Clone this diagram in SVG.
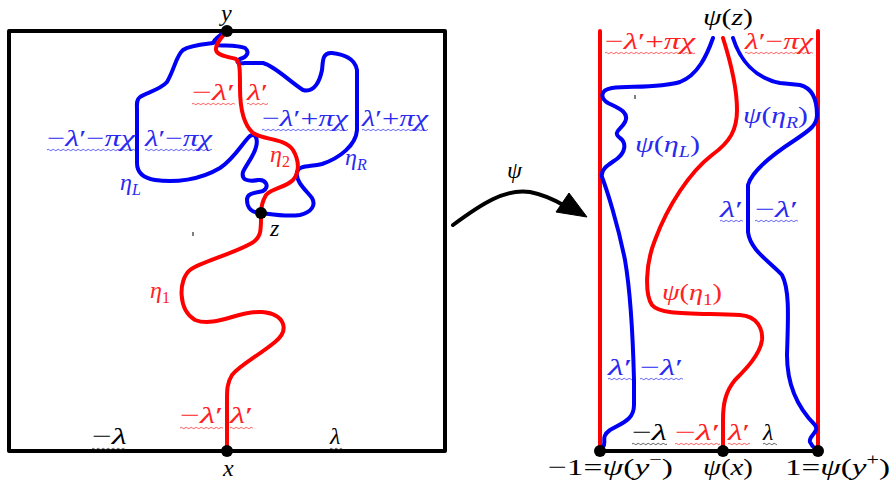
<svg xmlns="http://www.w3.org/2000/svg" width="893" height="489" viewBox="0 0 893 489">
<style>
.t{font-family:"Liberation Serif","DejaVu Serif",serif;font-size:24px;font-style:italic}
.u{font-style:normal}
.k{fill:#000}
.b{fill:#2a2af0}
.r{fill:#ff2222}
.cb{fill:none;stroke:#0000f5;stroke-width:4;stroke-linecap:round;stroke-linejoin:round}
.cr{fill:none;stroke:#ff0000;stroke-width:4;stroke-linecap:round;stroke-linejoin:round}
.ck{fill:none;stroke:#000;stroke-width:4;stroke-linecap:round;stroke-linejoin:round}
.sub{font-size:16px}
</style>
<defs>
<pattern id="wR" patternUnits="userSpaceOnUse" width="5" height="4"><path d="M0,2 Q1.25,0.6 2.5,2 T5,2" fill="none" stroke="#ff3030" stroke-width="0.8"/></pattern>
<pattern id="wB" patternUnits="userSpaceOnUse" width="5" height="4"><path d="M0,2 Q1.25,0.6 2.5,2 T5,2" fill="none" stroke="#3535f0" stroke-width="0.8"/></pattern>
<pattern id="wK" patternUnits="userSpaceOnUse" width="5" height="4"><path d="M0,2 Q1.25,0.6 2.5,2 T5,2" fill="none" stroke="#333" stroke-width="0.8"/></pattern>
</defs>

<g id="left-domain">
<rect x="9" y="31" width="436" height="420" class="ck" stroke-linejoin="miter"/>
<line x1="193" y1="232" x2="193" y2="236" stroke="#000" stroke-width="1"/>
</g>

<g id="right-strip">
<line x1="600" y1="31" x2="600" y2="451" class="cr"/>
<line x1="818" y1="31" x2="818" y2="451" class="cr"/>
<line x1="600" y1="451" x2="818" y2="451" class="ck"/>
<line x1="635" y1="95" x2="635" y2="99" stroke="#000" stroke-width="1"/>
</g>

<g id="curves">
<path id="etaL" class="cb" d="M227,31 C220,35 214,40 213,43 C205,44 190,45 183,50 C176,56 175,68 167,82 C160,90 145,93 140,97 C136,100 137,105 137,110 L137,163 C137,172 143,178 155,180 C175,183 200,180 220,168 C235,158 243,142 250,136 C256,132 258,140 256,147 C254,156 246,165 243,172 C241,180 248,182 258,180 C266,179 270,187 263,191 C255,193 247,193 247,200 C247,208 252,213 261,213"/>
<path id="etaR" class="cb" d="M227,31 C220,35 215,40 217,45 C222,46 238,45 245,48 C250,52 247,57 240,59 C236,61 236,64 245,63 L263,63 C275,66 290,82 303,90 C315,93 320,80 322,70 C323,62 322,52 332,53 C342,54 355,58 357,70 L357,130 C356,145 340,158 322,164 C310,167 299,165 297,172 C295,182 308,192 312,198 C316,205 312,212 300,215 C285,217 270,214 261,213"/>
<path id="eta2" class="cr" d="M227,31 C222,37 215,44 216,50 C217,56 230,57 236,59 C240,62 240,70 240,88 C240,110 244,125 253,133 C263,140 285,138 293,150 C299,160 300,172 293,180 C285,188 272,188 266,195 C262,202 261,208 261,213"/>
<path id="eta1" class="cr" d="M261,213 C261,230 262,238 250,244 C230,255 200,262 190,270 C178,280 178,310 195,320 C215,328 240,310 262,312 C285,314 290,330 275,342 C258,356 240,365 232,375 C227,383 227,390 227,400 L227,451"/>
<path id="psiEta" class="cr" d="M723,38 C730,60 737,90 737,110 C737,130 730,142 712,155 C690,172 668,205 655,240 C645,265 645,295 652,305 C660,315 690,313 740,315 C758,316 763,330 762,340 C760,355 745,370 735,380 C725,392 723,405 723,420 L723,451"/>
<path id="psiEtaL" class="cb" d="M713,38 C707,55 698,75 680,82 C660,88 630,86 612,88 C600,90 600,98 608,103 C618,108 630,112 625,122 C621,130 612,132 620,138 C627,143 625,152 618,158 C612,163 600,168 602,177 C607,190 618,225 625,260 C631,295 633,340 634,380 L634,405 C634,420 622,423 610,430 C600,437 607,442 603,447 L600,451"/>
<path id="psiEtaR" class="cb" d="M733,38 C740,60 755,78 780,83 L800,85 C812,88 817,100 817,115 C817,125 810,130 795,140 C775,153 752,170 748,185 L748,232 C750,250 770,262 782,275 C790,290 788,320 787,355 C787,380 795,405 815,425 C820,432 808,436 810,442 C812,447 816,449 818,451"/>
</g>

<g id="points">
<circle id="pt-y" cx="227" cy="31" r="6"/>
<circle id="pt-z" cx="261" cy="213" r="6"/>
<circle id="pt-x" cx="227" cy="451" r="6"/>
<circle id="pt-ym" cx="600" cy="451" r="6"/>
<circle id="pt-px" cx="723" cy="451" r="6"/>
<circle id="pt-yp" cx="818" cy="451" r="6"/>
</g>

<g id="connectors">
<path class="ck" d="M453,225 C480,205 505,188 530,192 C545,195 555,200 565,206"/>
<polygon points="587,217 569,193 556,212" fill="#000" stroke="#000" stroke-width="1" stroke-linejoin="round"/>
<text class="t k" x="507" y="178">ψ</text>
</g>

<g id="waves">
<rect transform="translate(192,102)" width="43" height="4" fill="url(#wR)"/>
<rect transform="translate(247,102)" width="21" height="4" fill="url(#wR)"/>
<rect transform="translate(262,128)" width="86" height="4" fill="url(#wB)"/>
<rect transform="translate(362,128)" width="66" height="4" fill="url(#wB)"/>
<rect transform="translate(47,148)" width="88" height="4" fill="url(#wB)"/>
<rect transform="translate(145,148)" width="67" height="4" fill="url(#wB)"/>
<rect transform="translate(180,426)" width="43" height="4" fill="url(#wR)"/>
<rect transform="translate(230,426)" width="23" height="4" fill="url(#wR)"/>
<rect transform="translate(92,447)" width="33" height="4" fill="url(#wK)"/>
<rect transform="translate(330,447)" width="12" height="4" fill="url(#wK)"/>
<rect transform="translate(605,51)" width="90" height="4" fill="url(#wR)"/>
<rect transform="translate(745,51)" width="68" height="4" fill="url(#wR)"/>
<rect transform="translate(720,219)" width="23" height="4" fill="url(#wB)"/>
<rect transform="translate(755,219)" width="43" height="4" fill="url(#wB)"/>
<rect transform="translate(608,377)" width="24" height="4" fill="url(#wB)"/>
<rect transform="translate(640,377)" width="43" height="4" fill="url(#wB)"/>
<rect transform="translate(632,442)" width="35" height="4" fill="url(#wK)"/>
<rect transform="translate(675,442)" width="45" height="4" fill="url(#wR)"/>
<rect transform="translate(728,442)" width="22" height="4" fill="url(#wR)"/>
<rect transform="translate(763,442)" width="14" height="4" fill="url(#wK)"/>
</g>

<g id="labels-left">
<text class="t k" x="221" y="21" font-size="20">y</text>
<text class="t k" x="223" y="476">x</text>
<text class="t k" x="270" y="236">z</text>
<text class="t r" x="192" y="100" textLength="43" lengthAdjust="spacingAndGlyphs"><tspan class="u">−</tspan>λ<tspan class="u">′</tspan></text>
<text class="t r" x="247" y="100" textLength="21" lengthAdjust="spacingAndGlyphs">λ<tspan class="u">′</tspan></text>
<text class="t b" x="262" y="126" textLength="86" lengthAdjust="spacingAndGlyphs"><tspan class="u">−</tspan>λ<tspan class="u">′+</tspan>πχ</text>
<text class="t b" x="362" y="126" textLength="66" lengthAdjust="spacingAndGlyphs">λ<tspan class="u">′+</tspan>πχ</text>
<text class="t b" x="47" y="146" textLength="88" lengthAdjust="spacingAndGlyphs"><tspan class="u">−</tspan>λ<tspan class="u">′−</tspan>πχ</text>
<text class="t b" x="145" y="146" textLength="67" lengthAdjust="spacingAndGlyphs">λ<tspan class="u">′−</tspan>πχ</text>
<text class="t b" x="120" y="190">η<tspan class="sub" dy="5">L</tspan></text>
<text class="t b" x="345" y="165">η<tspan class="sub" dy="5">R</tspan></text>
<text class="t r" x="270" y="162">η<tspan class="sub u" dy="5">2</tspan></text>
<text class="t r" x="150" y="298">η<tspan class="sub u" dy="5">1</tspan></text>
<text class="t r" x="180" y="423" textLength="43" lengthAdjust="spacingAndGlyphs"><tspan class="u">−</tspan>λ<tspan class="u">′</tspan></text>
<text class="t r" x="230" y="423" textLength="23" lengthAdjust="spacingAndGlyphs">λ<tspan class="u">′</tspan></text>
<text class="t k" x="92" y="444" textLength="35" lengthAdjust="spacingAndGlyphs"><tspan class="u">−</tspan>λ</text>
<text class="t k" x="330" y="444">λ</text>
</g>

<g id="labels-right">
<text class="t k" x="703" y="25" textLength="50" lengthAdjust="spacingAndGlyphs">ψ<tspan class="u">(</tspan>z<tspan class="u">)</tspan></text>
<text class="t r" x="605" y="49" textLength="90" lengthAdjust="spacingAndGlyphs"><tspan class="u">−</tspan>λ<tspan class="u">′+</tspan>πχ</text>
<text class="t r" x="745" y="49" textLength="68" lengthAdjust="spacingAndGlyphs">λ<tspan class="u">′−</tspan>πχ</text>
<text class="t b" x="635" y="152" textLength="65" lengthAdjust="spacingAndGlyphs">ψ<tspan class="u">(</tspan>η<tspan class="sub" dy="5">L</tspan><tspan class="u" dy="-5">)</tspan></text>
<text class="t b" x="743" y="123" textLength="65" lengthAdjust="spacingAndGlyphs">ψ<tspan class="u">(</tspan>η<tspan class="sub" dy="5">R</tspan><tspan class="u" dy="-5">)</tspan></text>
<text class="t r" x="662" y="300" textLength="60" lengthAdjust="spacingAndGlyphs">ψ<tspan class="u">(</tspan>η<tspan class="sub u" dy="5">1</tspan><tspan class="u" dy="-5">)</tspan></text>
<text class="t b" x="720" y="217" textLength="23" lengthAdjust="spacingAndGlyphs">λ<tspan class="u">′</tspan></text>
<text class="t b" x="755" y="217" textLength="43" lengthAdjust="spacingAndGlyphs"><tspan class="u">−</tspan>λ<tspan class="u">′</tspan></text>
<text class="t b" x="608" y="375" textLength="24" lengthAdjust="spacingAndGlyphs">λ<tspan class="u">′</tspan></text>
<text class="t b" x="640" y="375" textLength="43" lengthAdjust="spacingAndGlyphs"><tspan class="u">−</tspan>λ<tspan class="u">′</tspan></text>
<text class="t k" x="632" y="440" textLength="35" lengthAdjust="spacingAndGlyphs"><tspan class="u">−</tspan>λ</text>
<text class="t r" x="675" y="440" textLength="45" lengthAdjust="spacingAndGlyphs"><tspan class="u">−</tspan>λ<tspan class="u">′</tspan></text>
<text class="t r" x="728" y="440" textLength="22" lengthAdjust="spacingAndGlyphs">λ<tspan class="u">′</tspan></text>
<text class="t k" x="763" y="440">λ</text>
<text class="t k" x="548" y="475" textLength="125" lengthAdjust="spacingAndGlyphs"><tspan class="u">−1=</tspan>ψ<tspan class="u">(</tspan>y<tspan class="sub u" dy="-10">−</tspan><tspan class="u" dy="10">)</tspan></text>
<text class="t k" x="703" y="475" textLength="50" lengthAdjust="spacingAndGlyphs">ψ<tspan class="u">(</tspan>x<tspan class="u">)</tspan></text>
<text class="t k" x="785" y="475" textLength="105" lengthAdjust="spacingAndGlyphs"><tspan class="u">1=</tspan>ψ<tspan class="u">(</tspan>y<tspan class="sub u" dy="-10">+</tspan><tspan class="u" dy="10">)</tspan></text>
</g>
</svg>
